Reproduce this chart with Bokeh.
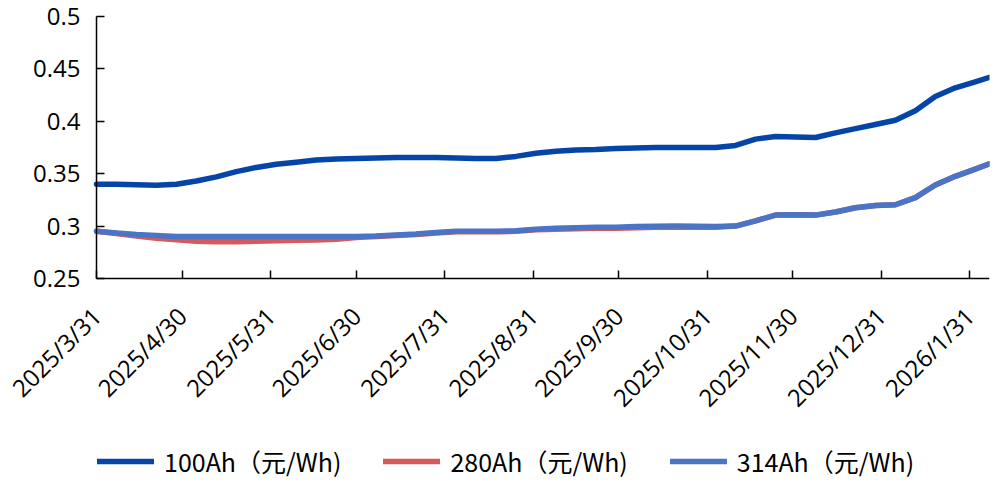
import pandas as pd
from bokeh.plotting import figure
from bokeh.models import FixedTicker, Legend, LegendItem, CustomJSTickFormatter, Range1d
from bokeh.embed import file_html
from bokeh.resources import INLINE
from math import pi

# ---- data ----
start_date = "2025-03-31"
dates = [
    "2025-03-31", "2025-04-07", "2025-04-14", "2025-04-21", "2025-04-28", "2025-05-05",
    "2025-05-12", "2025-05-19", "2025-05-26", "2025-06-02", "2025-06-09", "2025-06-16",
    "2025-06-23", "2025-06-30", "2025-07-07", "2025-07-14", "2025-07-21", "2025-07-28",
    "2025-08-04", "2025-08-11", "2025-08-18", "2025-08-25", "2025-09-01", "2025-09-08",
    "2025-09-15", "2025-09-22", "2025-09-29", "2025-10-06", "2025-10-13", "2025-10-20",
    "2025-10-27", "2025-11-03", "2025-11-10", "2025-11-17", "2025-11-24", "2025-12-01",
    "2025-12-08", "2025-12-15", "2025-12-22", "2025-12-29", "2026-01-05", "2026-01-12",
    "2026-01-19", "2026-01-26", "2026-02-02", "2026-02-07",
]
s100 = [
    0.340, 0.340, 0.3395, 0.339, 0.340, 0.343, 0.347, 0.352, 0.356, 0.359, 0.361, 0.363,
    0.364, 0.3645, 0.365, 0.3655, 0.3655, 0.3655, 0.365, 0.3645, 0.3645, 0.3665, 0.3695, 0.3715,
    0.3725, 0.373, 0.374, 0.3745, 0.375, 0.375, 0.375, 0.375, 0.377, 0.383, 0.3855, 0.385,
    0.3845, 0.389, 0.393, 0.397, 0.401, 0.410, 0.4237, 0.432, 0.4377, 0.442,
]
s280 = [
    0.295, 0.293, 0.2905, 0.2885, 0.287, 0.2855, 0.285, 0.285, 0.2855, 0.286, 0.2865, 0.2868,
    0.2875, 0.289, 0.290, 0.291, 0.292, 0.2935, 0.2945, 0.2945, 0.2945, 0.295, 0.2965, 0.297,
    0.2975, 0.298, 0.298, 0.2985, 0.2988, 0.299, 0.2988, 0.2988, 0.300, 0.305, 0.3105, 0.3108,
    0.3105, 0.3135, 0.3175, 0.3196, 0.3204, 0.3272, 0.3392, 0.3475, 0.3544, 0.3594,
]
s314 = [
    0.295, 0.2935, 0.292, 0.291, 0.290, 0.290, 0.290, 0.290, 0.290, 0.290, 0.290, 0.290,
    0.290, 0.290, 0.2905, 0.2915, 0.2925, 0.294, 0.295, 0.295, 0.295, 0.2955, 0.297, 0.298,
    0.2985, 0.299, 0.299, 0.2995, 0.2998, 0.300, 0.2998, 0.2995, 0.300, 0.305, 0.3105, 0.3108,
    0.3105, 0.3135, 0.3175, 0.3196, 0.3204, 0.3272, 0.3392, 0.3475, 0.3544, 0.3594,
]
tick_dates = ["2025-03-31", "2025-04-30", "2025-05-31", "2025-06-30", "2025-07-31", "2025-08-31",
              "2025-09-30", "2025-10-31", "2025-11-30", "2025-12-31", "2026-01-31"]
tick_labels = ["2025/3/31", "2025/4/30", "2025/5/31", "2025/6/30", "2025/7/31", "2025/8/31",
               "2025/9/30", "2025/10/31", "2025/11/30", "2025/12/31", "2026/1/31"]
y_ticks = [0.25, 0.3, 0.35, 0.4, 0.45, 0.5]
y_min, y_max = 0.25, 0.5
names = ["100Ah（元/Wh)", "280Ah（元/Wh)", "314Ah（元/Wh)"]
colors = ["#0645A8", "#D65A5A", "#4A74C6"]

# ---- layout constants (pixels) ----
plot_w = 893           # width of the dated span
plot_h = 262           # height of the 0.25..0.5 span
left_px = 92           # room left of the y axis for its tick labels
below_px = 203         # room below the x axis for tick labels and legend
above_px = 14          # room above the top tick for its label

# ---- build ----
t0 = pd.Timestamp(start_date)
xd = [(pd.Timestamp(d) - t0).days for d in dates]
xt = [(pd.Timestamp(d) - t0).days for d in tick_dates]
x_end = xd[-1]
px_per_day = plot_w / x_end
px_per_unit = plot_h / (y_max - y_min)

p = figure(frame_width=plot_w + left_px, frame_height=plot_h + below_px + above_px,
           output_backend="svg", toolbar_location=None,
           x_range=Range1d(-left_px / px_per_day, x_end),
           y_range=Range1d(y_min - below_px / px_per_unit, y_max + above_px / px_per_unit),
           min_border_left=4, min_border_right=10, min_border_top=16 - above_px,
           min_border_bottom=0)
p.outline_line_color = None
p.xgrid.visible = False
p.ygrid.visible = False
p.background_fill_alpha = 0

renderers = []
for ys, c in zip([s100, s280, s314], colors):
    r = p.line(xd, ys, line_color=c, line_width=5.5, line_cap="round", line_join="round")
    renderers.append(r)

p.xaxis.ticker = FixedTicker(ticks=xt)
p.xaxis.major_label_overrides = {int(k): v for k, v in zip(xt, tick_labels)}
p.xaxis.major_label_orientation = pi / 4
p.xaxis.fixed_location = y_min
p.xaxis.bounds = (0, x_end)
p.yaxis.ticker = FixedTicker(ticks=y_ticks)
p.yaxis.fixed_location = 0
p.yaxis.bounds = (y_min, y_max)
p.yaxis.formatter = CustomJSTickFormatter(code="return Number(tick.toFixed(2)).toString();")

for ax in [p.xaxis[0], p.yaxis[0]]:
    ax.axis_line_color = "black"
    ax.axis_line_width = 1.5
    ax.major_tick_line_color = "black"
    ax.major_tick_line_width = 1.5
    ax.major_tick_out = 0
    ax.major_tick_in = 8
    ax.minor_tick_line_color = None
    ax.major_label_text_font = "Open Sans"
    ax.major_label_text_color = "black"
p.xaxis.major_label_text_font_size = "24px"
p.yaxis.major_label_text_font_size = "24px"
p.xaxis.major_label_standoff = 33
p.yaxis.major_label_standoff = 16

legend = Legend(items=[LegendItem(label=n, renderers=[r]) for n, r in zip(names, renderers)],
                orientation="horizontal", location=(left_px + 1, 2))
legend.label_text_font = "Noto Sans CJK SC"
legend.label_text_font_size = "25px"
legend.label_text_color = "black"
legend.glyph_width = 57
legend.glyph_height = 24
legend.label_standoff = 10
legend.spacing = 42
legend.border_line_color = None
legend.background_fill_alpha = 0
legend.padding = 0
legend.margin = 0
p.add_layout(legend, "center")

open("out.html", "w").write(file_html(p, INLINE))
